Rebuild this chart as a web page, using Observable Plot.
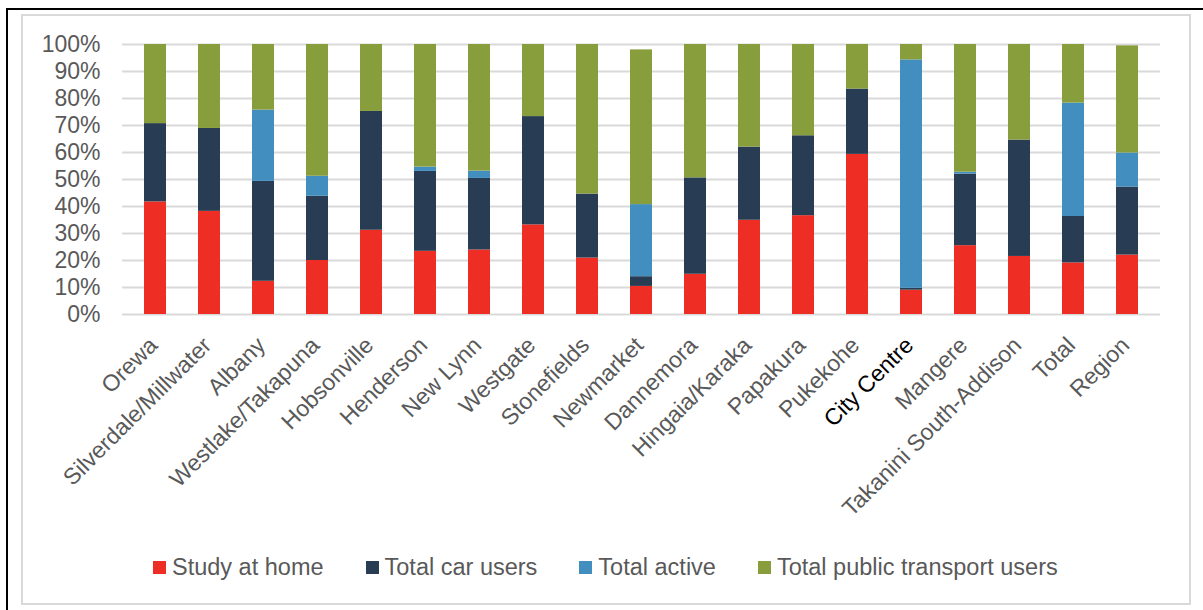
<!DOCTYPE html>
<html>
<head>
<meta charset="utf-8">
<script src="https://cdn.jsdelivr.net/npm/d3@7"></script>
<script src="https://cdn.jsdelivr.net/npm/@observablehq/plot@0.6"></script>
<style>
  body { margin: 0; background: #fff; font-family: "Liberation Sans", Arial, sans-serif; }
  #wrap { position: relative; width: 1203px; height: 610px; overflow: hidden; background: #fff; }
  #outer { position: absolute; left: 6px; top: 8px; right: -10px; bottom: -10px; border-left: 2px solid #000; border-top: 2px solid #000; }
  #inner { position: absolute; left: 21px; top: 14px; width: 1166px; height: 587px; border: 2px solid #d9d9d9; }
  #chart { position: absolute; left: 0; top: 0; }
  #legend { position: absolute; left: 153px; top: 552px; height: 30px; display: flex; align-items: center; font-size: 23.5px; color: #595959; white-space: nowrap; }
  .item { display: flex; align-items: center; margin-right: 42px; }
  .sw { width: 13px; height: 13px; margin-right: 6px; }
</style>
</head>
<body>
<div id="wrap">
  <div id="outer"></div>
  <div id="inner"></div>
  <div id="chart"></div>
  <div id="legend"></div>
</div>
<script>
const categories = ["Orewa", "Silverdale/Millwater", "Albany", "Westlake/Takapuna", "Hobsonville", "Henderson", "New Lynn", "Westgate", "Stonefields", "Newmarket", "Dannemora", "Hingaia/Karaka", "Papakura", "Pukekohe", "City Centre", "Mangere", "Takanini South-Addison", "Total", "Region"];
const seriesNames = ["Study at home", "Total car users", "Total active", "Total public transport users"];
const seriesColors = ["#ee2e24", "#283d53", "#428ebf", "#889e3d"];
const studyAtHome = [41.7, 38.2, 12.3, 20.0, 31.2, 23.4, 23.9, 33.2, 20.9, 10.4, 14.9, 34.9, 36.6, 59.3, 9.0, 25.5, 21.5, 19.1, 22.0];
const carUsers    = [29.0, 30.7, 37.0, 23.8, 44.0, 29.6, 26.5, 40.1, 23.7, 3.6, 35.7, 27.1, 29.6, 24.2, 0.7, 26.5, 43.1, 17.2, 25.2];
const active      = [0, 0, 26.4, 7.4, 0, 1.6, 2.7, 0, 0, 26.7, 0, 0, 0, 0, 84.6, 0.7, 0, 42.0, 12.6];
const publicTransport = [29.3, 31.1, 24.3, 48.8, 24.8, 45.4, 46.9, 26.7, 55.4, 57.3, 49.4, 38.0, 33.8, 16.5, 5.7, 47.3, 35.4, 21.7, 39.7];
const yTicks = [0, 10, 20, 30, 40, 50, 60, 70, 80, 90, 100];

const seriesValues = [studyAtHome, carUsers, active, publicTransport];
const data = [];
categories.forEach((c, i) => {
  seriesNames.forEach((s, j) => data.push({category: c, series: s, value: seriesValues[j][i]}));
});

const chart = Plot.plot({
  width: 1203,
  height: 530,
  marginLeft: 122,
  marginRight: 43,
  marginTop: 44,
  marginBottom: 216,
  style: {fontFamily: '"Liberation Sans", Arial, sans-serif', fontSize: "23px", color: "#595959", background: "transparent", overflow: "visible"},
  x: {domain: categories, paddingInner: 0.6, paddingOuter: 0.3, label: null},
  y: {domain: [0, 100], label: null},
  color: {domain: seriesNames, range: seriesColors},
  marks: [
    Plot.gridY(yTicks, {stroke: "#d9d9d9", strokeOpacity: 1, strokeWidth: 2}),
    Plot.barY(data, {x: "category", y: "value", fill: "series"}),
    Plot.axisY(yTicks, {tickSize: 0, tickPadding: 22, tickFormat: d => d + "%", fill: "#595959", label: null}),
    Plot.axisX({tickSize: 0, tickPadding: 27, dx: -2, tickRotate: -45, fill: "#595959", fontSize: 23, label: null})
  ]
});
document.getElementById("chart").appendChild(chart);

d3.select(chart).selectAll("g[aria-label='x-axis tick label'] text")
  .filter(function() { return this.textContent === "City Centre"; })
  .attr("fill", "#000");

const legend = document.getElementById("legend");
seriesNames.forEach((s, j) => {
  const it = document.createElement("div");
  it.className = "item";
  const sw = document.createElement("div");
  sw.className = "sw";
  sw.style.background = seriesColors[j];
  const t = document.createElement("span");
  t.textContent = s;
  it.appendChild(sw);
  it.appendChild(t);
  legend.appendChild(it);
});
</script>
</body>
</html>
